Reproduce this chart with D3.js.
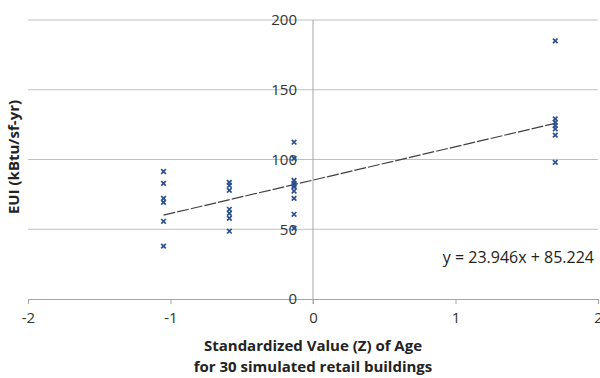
<!DOCTYPE html>
<html>
<head>
<meta charset="utf-8">
<script src="https://cdn.jsdelivr.net/npm/d3@7"></script>
<style>
  body { margin: 0; background: #fff; }
  svg { display: block; font-family: "Open Sans", "Liberation Sans", sans-serif; }
</style>
</head>
<body>
<svg id="chart" width="600" height="378"></svg>
<script>
// standardized age (Z) and EUI for each simulated building
const zAge = [
  -1.049, -1.049, -1.049, -1.049, -1.049, -1.049,
  -0.587, -0.587, -0.587, -0.587, -0.587, -0.587, -0.587,
  -0.133, -0.133, -0.133, -0.133, -0.133, -0.133, -0.133, -0.133, -0.133, -0.133,
  1.7, 1.7, 1.7, 1.7, 1.7, 1.7, 1.7
];
const eui = [
  91.4, 82.9, 72.1, 69.3, 55.7, 37.9,
  83.6, 81.4, 77.9, 64.3, 61.4, 57.9, 48.6,
  112.4, 100.7, 85.0, 82.9, 81.5, 80.4, 77.4, 72.1, 60.7, 50.7,
  185.0, 129.1, 126.6, 124.3, 121.9, 117.5, 98.0
];
const xTicks = [-2, -1, 0, 1, 2];
const yTicks = [0, 50, 100, 150, 200];
const slope = 23.946, intercept = 85.224;
const equationLabel = "y = 23.946x + 85.224";

const svg = d3.select("#chart");
const x = d3.scaleLinear().domain([-2, 2]).range([28, 598]);
const y = d3.scaleLinear().domain([0, 200]).range([299, 20]);

// horizontal gridlines
svg.append("g")
    .selectAll("line")
    .data(yTicks.filter(d => d > 0))
    .join("line")
    .attr("x1", x(-2)).attr("x2", x(2))
    .attr("y1", d => y(d)).attr("y2", d => y(d))
    .attr("stroke", "#c0c0c0")
    .attr("stroke-width", 1);

// x axis along y = 0, ticks pointing down
const xAxis = svg.append("g")
    .attr("transform", `translate(0,${y(0)})`)
    .call(d3.axisBottom(x).tickValues(xTicks).tickSize(5).tickPadding(8).tickFormat(d => String(d)));
xAxis.select(".domain").attr("stroke", "#a6a6a6");
xAxis.selectAll(".tick line").attr("stroke", "#a6a6a6");
xAxis.selectAll(".tick text")
    .attr("font-size", 15)
    .attr("fill", "#333")
    .attr("font-family", "Open Sans, sans-serif");

// y axis through x = 0
const yAxis = svg.append("g")
    .attr("transform", `translate(${x(0)},0)`)
    .call(d3.axisLeft(y).tickValues(yTicks).tickSize(0).tickPadding(16));
yAxis.select(".domain").remove();
yAxis.selectAll(".tick text")
    .attr("font-size", 15)
    .attr("fill", "#333")
    .attr("font-family", "Open Sans, sans-serif");
svg.append("line")
    .attr("x1", x(0)).attr("x2", x(0))
    .attr("y1", y(200)).attr("y2", y(0) + 5)
    .attr("stroke", "#a6a6a6");

// linear trendline across the data range
const [zMin, zMax] = d3.extent(zAge);
svg.append("line")
    .attr("x1", x(zMin)).attr("y1", y(slope * zMin + intercept))
    .attr("x2", x(zMax)).attr("y2", y(slope * zMax + intercept))
    .attr("stroke", "#404040")
    .attr("stroke-width", 1.2)
    .attr("stroke-dasharray", "12,2");

// x markers
const pts = zAge.map((z, i) => [z, eui[i]]);
svg.append("g")
    .selectAll("path")
    .data(pts)
    .join("path")
    .attr("d", d => {
        const cx = x(d[0]), cy = y(d[1]), r = 2.3;
        return `M${cx - r},${cy - r}L${cx + r},${cy + r}M${cx - r},${cy + r}L${cx + r},${cy - r}`;
    })
    .attr("stroke", "#2b5193")
    .attr("stroke-width", 1.7)
    .attr("fill", "none");

// equation
svg.append("text")
    .attr("x", 594).attr("y", 263)
    .attr("text-anchor", "end")
    .attr("font-size", 16)
    .attr("fill", "#222")
    .text(equationLabel);

// axis titles
svg.append("text")
    .attr("transform", "translate(19,157) rotate(-90)")
    .attr("text-anchor", "middle")
    .attr("font-size", 15)
    .attr("font-weight", "bold")
    .attr("fill", "#222")
    .text("EUI (kBtu/sf-yr)");

svg.append("text")
    .attr("x", x(0)).attr("y", 351)
    .attr("text-anchor", "middle")
    .attr("font-size", 15)
    .attr("font-weight", "bold")
    .attr("fill", "#222")
    .text("Standardized Value (Z) of Age");
svg.append("text")
    .attr("x", x(0)).attr("y", 372)
    .attr("text-anchor", "middle")
    .attr("font-size", 15)
    .attr("font-weight", "bold")
    .attr("fill", "#222")
    .text("for 30 simulated retail buildings");
</script>
</body>
</html>
